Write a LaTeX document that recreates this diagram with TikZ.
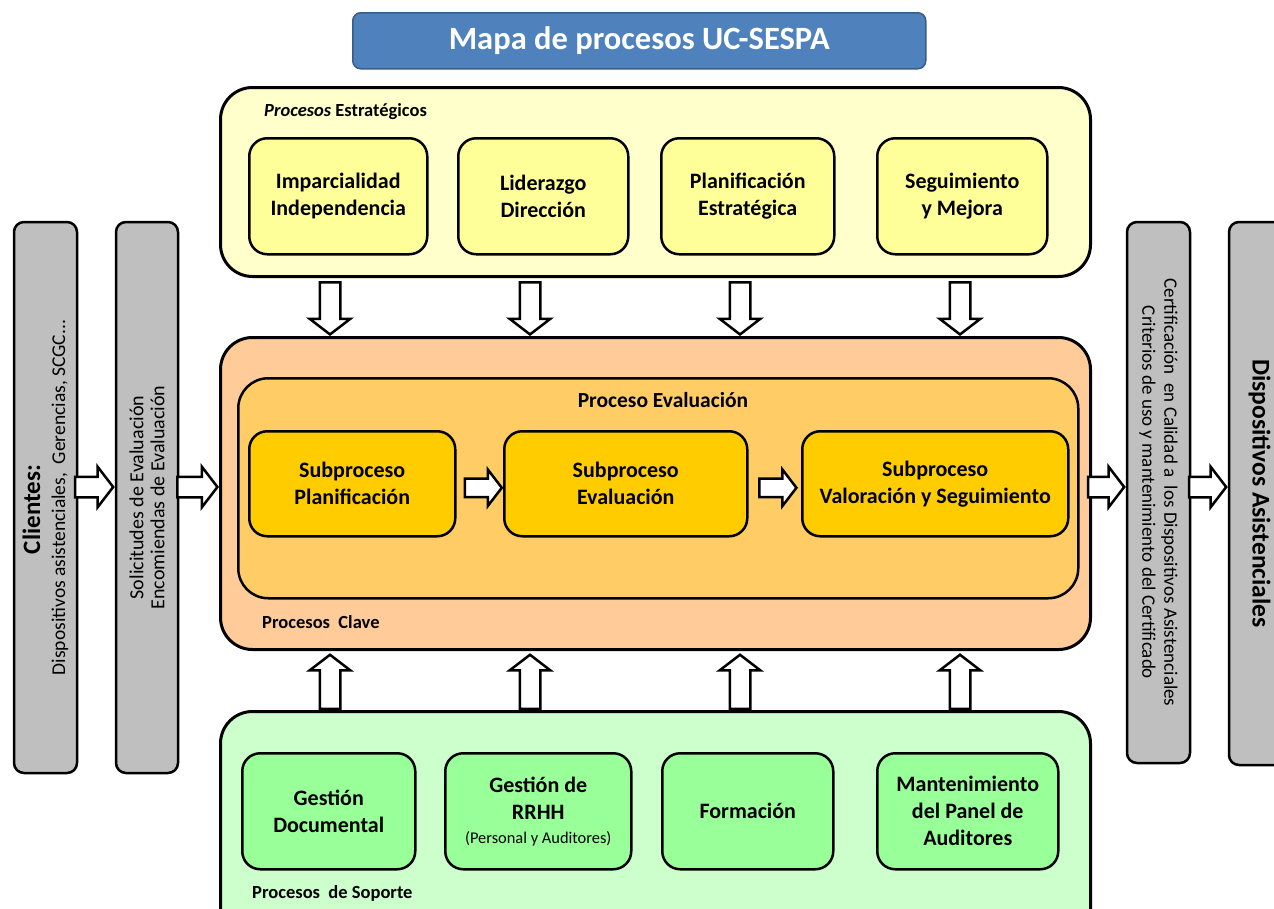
\documentclass[tikz,border=0pt]{standalone}
\usepackage{fontspec}
\setmainfont{Carlito}
\usetikzlibrary{positioning,shapes.arrows,calc}
\definecolor{azultit}{HTML}{4F81BD}
\definecolor{azulborde}{HTML}{385D8A}
\definecolor{estfondo}{HTML}{FFFFCC}
\definecolor{estcaja}{HTML}{FFFF99}
\definecolor{clavefondo}{HTML}{FFCC99}
\definecolor{evalfondo}{HTML}{FFCC66}
\definecolor{subcaja}{HTML}{FFCC00}
\definecolor{sopfondo}{HTML}{CCFFCC}
\definecolor{sopcaja}{HTML}{99FF99}
\definecolor{gris}{HTML}{BFBFBF}
\tikzset{
  marco/.style={draw=black,line width=3pt,rounded corners=32pt,anchor=north west,inner sep=0pt},
  caja/.style={draw=black,line width=2.5pt,rounded corners=18pt,anchor=north west,inner sep=0pt,
    align=center,font=\bfseries\fontsize{22}{27}\selectfont},
  lateral/.style={draw=black,line width=2.5pt,fill=gris,rounded corners=10pt,inner sep=0pt,align=center},
  rotulo/.style={anchor=west,inner sep=0pt,font=\bfseries\fontsize{18.5}{22}\selectfont},
  flecha/.style={single arrow,draw=black,fill=white,line width=2.5pt,inner xsep=0pt,inner ysep=9pt,
    minimum width=0pt,single arrow head extend=10pt,single arrow tip angle=105},
}
\begin{document}
\begin{tikzpicture}[x=1pt,y=-1pt]
\clip (0,0) rectangle (1274,908);
% titulo
\node[draw=azulborde,line width=1.5pt,fill=azultit,rounded corners=8pt,anchor=north west,
  minimum width=573pt,minimum height=56pt,text=white,font=\bfseries\fontsize{32.5}{36}\selectfont]
  (titulo) at (352,12) {Mapa de procesos UC-SESPA};
% procesos estrategicos
\node[marco,fill=estfondo,minimum width=870pt,minimum height=189pt] (est) at (219,86) {};
\node[rotulo] at (264,112) {\itshape Procesos\upshape\ Estratégicos};
\node[caja,fill=estcaja,minimum width=178pt,minimum height=116pt] (est1) at (248,137) {Imparcialidad\\Independencia};
\node[caja,fill=estcaja,minimum width=170pt,minimum height=116pt] (est2) at (457,137) {Liderazgo\\Dirección};
\node[caja,fill=estcaja,minimum width=173pt,minimum height=116pt] (est3) at (660,137) {Planificación\\Estratégica};
\node[caja,fill=estcaja,minimum width=170pt,minimum height=116pt] (est4) at (876,137) {Seguimiento\\y Mejora};
% procesos clave
\node[marco,fill=clavefondo,minimum width=870pt,minimum height=312pt] (clave) at (219,336) {};
\node[marco,fill=evalfondo,line width=2.5pt,rounded corners=30pt,minimum width=840pt,minimum height=220pt] (eval) at (237,377) {};
\node[font=\bfseries\fontsize{21.5}{24}\selectfont] at (663,400) {Proceso Evaluación};
\node[rotulo] at (262,622) {Procesos\ \ Clave};
\node[caja,fill=subcaja,minimum width=206pt,minimum height=105pt] (sub1) at (248,430) {Subproceso\\Planificación};
\node[caja,fill=subcaja,minimum width=243pt,minimum height=105pt] (sub2) at (503,430) {Subproceso\\Evaluación};
\node[caja,fill=subcaja,minimum width=266pt,minimum height=105pt] (sub3) at (801,430) {Subproceso\\Valoración y Seguimiento};
% procesos de soporte
\node[marco,fill=sopfondo,minimum width=870pt,minimum height=230pt] (sop) at (219,710) {};
\node[rotulo] at (252,893) {Procesos\ \ de Soporte};
\node[caja,fill=sopcaja,minimum width=173pt,minimum height=116pt] (sop1) at (241,752) {Gestión\\Documental};
\node[caja,fill=sopcaja,minimum width=186pt,minimum height=116pt] (sop2) at (444,752)
  {Gestión de\\RRHH\\[-3pt]{\mdseries\fontsize{16.4}{19}\selectfont (Personal y Auditores)}};
\node[caja,fill=sopcaja,minimum width=171pt,minimum height=116pt] (sop3) at (661,752) {Formación};
\node[caja,fill=sopcaja,minimum width=181pt,minimum height=116pt] (sop4) at (876,752) {Mantenimiento\\del Panel de\\Auditores};
% columnas laterales
\node[lateral,rotate=90,minimum width=551pt,minimum height=63pt,font=\fontsize{19.5}{25}\selectfont] (cli) at (45.5,497.5)
  {{\bfseries\fontsize{25}{26}\selectfont Clientes:\hspace*{24pt}}\\Dispositivos asistenciales,\ \ Gerencias, SCGC...};
\node[lateral,rotate=90,minimum width=551pt,minimum height=62pt,font=\fontsize{20}{21}\selectfont] (sol) at (147,497.5)
  {Solicitudes de Evaluación\\Encomiendas de Evaluación};
\node[lateral,rotate=-90,minimum width=541pt,minimum height=63pt,font=\fontsize{19}{22}\selectfont] (cert) at (1158.5,492.5)
  {Certificación\ \ en Calidad a\ \ los Dispositivos Asistenciales\\Criterios de uso y mantenimiento del Certificado};
\node[lateral,rotate=-90,minimum width=543pt,minimum height=61pt,font=\bfseries\fontsize{25.5}{28}\selectfont] (disp) at (1259.5,493.5)
  {Dispositivos Asistenciales};
% flechas
\foreach \x in {330,530,740,960} {
  \node[flecha,rotate=-90,anchor=tip,minimum height=52pt] at (\x,0 |- clave.north) {};
  \node[flecha,rotate=90,anchor=tail,minimum height=54pt] at (\x,0 |- sop.north) {};
}
\node[flecha,anchor=tip,minimum height=38pt] at (sol.north |- 0,487) {};
\node[flecha,anchor=tip,minimum height=40pt] at (clave.west |- 0,487) {};
\node[flecha,anchor=tip,minimum height=36pt] at (cert.south |- 0,487) {};
\node[flecha,anchor=tip,minimum height=37pt] at (disp.south |- 0,487) {};
\node[flecha,inner ysep=8pt,single arrow head extend=9pt,minimum height=37pt] at ($(sub1.east)!.5!(sub2.west)+(0,4)$) {};
\node[flecha,inner ysep=8pt,single arrow head extend=9pt,minimum height=37pt,anchor=tip] at ($(sub3.west)+(-3,4)$) {};
\end{tikzpicture}
\end{document}
